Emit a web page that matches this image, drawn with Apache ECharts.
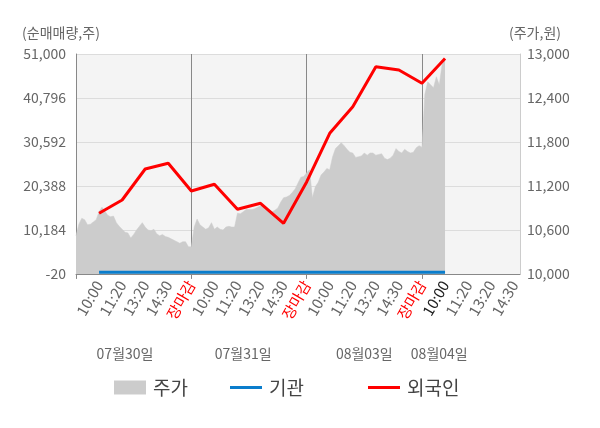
<!DOCTYPE html>
<html>
<head>
<meta charset="utf-8">
<script src="https://cdn.jsdelivr.net/npm/echarts@6/dist/echarts.min.js"></script>
<style>
html, body { margin: 0; padding: 0; background: #fff; }
#chart { width: 600px; height: 428px; }
</style>
</head>
<body>
<div id="chart"></div>
<script>
var PER_SLOT = 8;   // points per label slot
var TOTAL = 155;    // categories on the time axis

var slotTimes = ['10:00', '11:20', '13:20', '14:30', '장마감'];
var days = ['07월30일', '07월31일', '08월03일', '08월04일'];
var dayLabelIndex = [17, 58, 100, 126];

// 주가 (원)
var price = [
    10520, 10680, 10760, 10740, 10670, 10680, 10710, 10740, 10850, 10910,
    10860, 10800, 10780, 10790, 10700, 10650, 10610, 10570, 10560, 10490,
    10540, 10600, 10650, 10700, 10640, 10600, 10590, 10610, 10550, 10520,
    10540, 10510, 10500, 10480, 10460, 10440, 10420, 10440, 10440, 10370,
    10370,
    10640, 10750, 10670, 10640, 10610, 10630, 10700, 10610, 10640, 10610,
    10600, 10640, 10650, 10640, 10640, 10830, 10820, 10850, 10880, 10880,
    10880, 10890, 10910, 10930, 10930, 10910, 10870, 10850, 10870, 10900,
    10980, 11040, 11050, 11070, 11110, 11160, 11240, 11320, 11330, 11380,
    11420, 11040, 11190, 11250, 11350, 11390, 11440, 11420, 11600, 11710,
    11750, 11790, 11750, 11700, 11660, 11650, 11590, 11600, 11610, 11650,
    11620, 11650, 11650, 11620, 11630, 11640, 11580, 11560, 11580, 11620,
    11710, 11670, 11650, 11700, 11670, 11650, 11660, 11720, 11750, 11730,
    12450, 12620, 12580, 12540, 12690, 12580, 12860, 12920
];

// 순매매량 (주), one value per label slot starting at the first 10:00
var foreign = [14060, 17140, 24330, 25650, 19230, 20780, 14980, 16380,
    11740, 21320, 32610, 38780, 48050, 47290, 44200, 49950];
var inst = [380, 380, 380, 380, 380, 380, 380, 380,
    380, 380, 380, 380, 380, 380, 380, 380];

var leftTicks = [-20, 10184, 20388, 30592, 40796, 51000];
var rightTicks = [10000, 10600, 11200, 11800, 12400, 13000];

var FONT = '"Noto Sans CJK KR", "Noto Sans", sans-serif';

// time axis categories
var cats = [];
for (var i = 0; i < TOTAL; i++) {
    var label = '';
    var color = '#666';
    if (i > 0 && i % PER_SLOT == 0) {
        var s = i / PER_SLOT;
        label = slotTimes[(s - 1) % slotTimes.length];
        if (label == '장마감') color = '#ff0000';
        if (s == 16) color = '#222';
    }
    cats.push({ value: label, textStyle: { color: color } });
}
// day label categories
var dayCats = [];
for (var i = 0; i < TOTAL; i++) {
    var k = dayLabelIndex.indexOf(i);
    dayCats.push(k >= 0 ? days[k] : '');
}

function toPairs(arr) {
    return arr.map(function (v, k) { return [(k + 1) * PER_SLOT, v]; });
}
function isDayEnd(idx) {
    return idx > 0 && idx % (PER_SLOT * 5) == 0;
}
function fmt(v) {
    return Number(v).toLocaleString('en-US');
}

var legendText = { fontSize: 19, color: '#444', fontFamily: FONT, padding: [0, 0, 0, 2] };

var chart = echarts.init(document.getElementById('chart'));
chart.setOption({
    animation: false,
    textStyle: { fontFamily: FONT },
    grid: {
        left: 76, right: 80, top: 54, bottom: 154,
        show: true, backgroundColor: '#f4f4f4', borderWidth: 0
    },
    legend: [
        {
            data: [{ name: '주가', icon: 'rect' }],
            left: 109, top: 373, itemWidth: 32, itemHeight: 14,
            textStyle: legendText
        },
        {
            data: [{ name: '기관', icon: 'rect' }],
            left: 225, top: 373, itemWidth: 32, itemHeight: 3,
            textStyle: legendText
        },
        {
            data: [{ name: '외국인', icon: 'rect' }],
            left: 363, top: 373, itemWidth: 32, itemHeight: 3,
            textStyle: legendText
        }
    ],
    xAxis: [
        {
            type: 'category',
            data: cats,
            boundaryGap: false,
            axisLine: { lineStyle: { color: '#888' } },
            axisTick: {
                show: true, length: 5,
                interval: function (idx) { return idx == 0 || isDayEnd(idx); },
                lineStyle: { color: '#888' }
            },
            axisLabel: {
                interval: function (idx) { return idx > 0 && idx % PER_SLOT == 0; },
                rotate: 60, fontSize: 15, margin: 8, color: '#666', fontFamily: FONT
            },
            splitLine: {
                show: true,
                interval: function (idx) { return isDayEnd(idx); },
                lineStyle: { color: '#888', width: 1 }
            }
        },
        {
            type: 'category',
            data: dayCats,
            position: 'bottom',
            boundaryGap: false,
            axisLine: { show: false },
            axisTick: { show: false },
            axisLabel: {
                interval: 0, margin: 73, fontSize: 14, color: '#666', fontFamily: FONT
            },
            splitLine: { show: false }
        }
    ],
    yAxis: [
        {
            type: 'value',
            position: 'left',
            min: -20, max: 51000,
            name: '(순매매량,주)',
            nameLocation: 'end',
            nameGap: 14,
            nameTextStyle: { color: '#666', fontSize: 14, align: 'center', padding: [0, 30, 0, 0], fontFamily: FONT },
            axisLine: { show: true, lineStyle: { color: '#888' } },
            axisTick: { show: false, customValues: leftTicks },
            axisLabel: { customValues: leftTicks, formatter: fmt, color: '#666', fontSize: 14, margin: 10, fontFamily: FONT },
            splitLine: { show: true, lineStyle: { color: '#dcdcdc' } }
        },
        {
            type: 'value',
            position: 'right',
            min: 10000, max: 13000,
            name: '(주가,원)',
            nameLocation: 'end',
            nameGap: 14,
            nameTextStyle: { color: '#666', fontSize: 14, align: 'center', padding: [0, 0, 0, 30], fontFamily: FONT },
            axisLine: { show: true, lineStyle: { color: '#ccc' } },
            axisTick: { show: false, customValues: rightTicks },
            axisLabel: { customValues: rightTicks, formatter: fmt, color: '#666', fontSize: 14, margin: 7, fontFamily: FONT },
            splitLine: { show: false }
        }
    ],
    series: [
        {
            name: '주가',
            type: 'line',
            xAxisIndex: 0,
            yAxisIndex: 1,
            data: price,
            symbol: 'none',
            lineStyle: { width: 0.5, color: '#cccccc' },
            itemStyle: { color: '#cccccc' },
            areaStyle: { color: '#cccccc', opacity: 1 },
            z: 1
        },
        {
            name: '기관',
            type: 'line',
            xAxisIndex: 0,
            yAxisIndex: 0,
            data: toPairs(inst),
            symbol: 'none',
            lineStyle: { width: 3, color: '#0a7dcc' },
            itemStyle: { color: '#0a7dcc' },
            z: 3
        },
        {
            name: '외국인',
            type: 'line',
            xAxisIndex: 0,
            yAxisIndex: 0,
            data: toPairs(foreign),
            symbol: 'none',
            lineStyle: { width: 3, color: '#ff0000' },
            itemStyle: { color: '#ff0000' },
            z: 4
        }
    ]
});
</script>
</body>
</html>
